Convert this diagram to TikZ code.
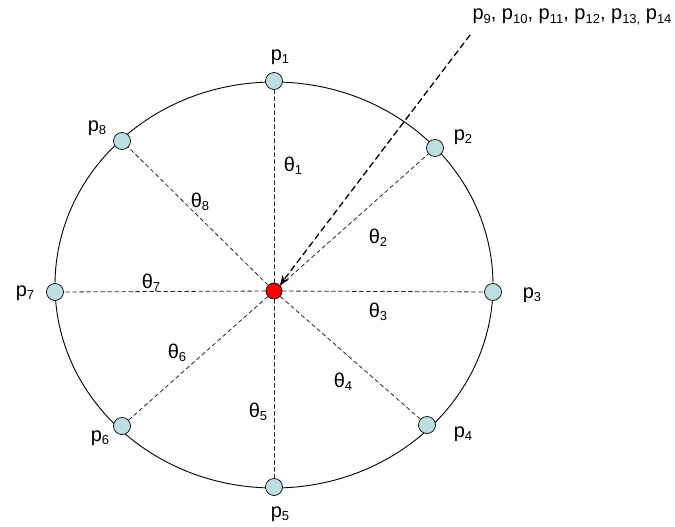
\documentclass[tikz,border=0pt]{standalone}
\usepackage{fontspec}
\setmainfont{Liberation Sans}
\usetikzlibrary{arrows.meta}
\newcommand{\lo}[1]{\raisebox{-0.3ex}{\fontsize{13}{14}\selectfont #1}}
\definecolor{ptblue}{HTML}{BCE0E2}
\begin{document}
\begin{tikzpicture}[
	x=1pt, y=-1pt,
	line cap=round, line join=round,
	pt/.style={circle, draw=black, fill=ptblue, line width=0.7pt, inner sep=0pt, minimum size=17pt},
	ctr/.style={circle, draw=black, fill=red, line width=0.7pt, inner sep=0pt, minimum size=16pt},
	spoke/.style={draw=black!85, dash pattern=on 4pt off 3pt, line width=0.8pt},
	lbl/.style={font=\fontsize{20}{22}\selectfont, inner sep=0pt}
	]
	\useasboundingbox (0,0) rectangle (675,527);
	
	\draw[line width=0.9pt] (274,285) ellipse [x radius=219, y radius=203];
	
	\node[ctr] (c) at (274,291) {};
	
	\node[pt] (p1) at (274,81) {};
	\node[pt] (p2) at (435,148) {};
	\node[pt] (p3) at (493,292) {};
	\node[pt] (p4) at (427,425) {};
	\node[pt] (p5) at (274,487) {};
	\node[pt] (p6) at (122,426) {};
	\node[pt] (p7) at (55,292) {};
	\node[pt] (p8) at (122,141) {};
	
	\foreach \i in {1,...,8}
		\draw[spoke] (c)--(p\i);
	
	\node[lbl] at (280,57) {p\lo{1}};
	\node[lbl] at (463,137) {p\lo{2}};
	\node[lbl] at (532,295) {p\lo{3}};
	\node[lbl] at (463,434) {p\lo{4}};
	\node[lbl] at (280,514) {p\lo{5}};
	\node[lbl] at (100,438) {p\lo{6}};
	\node[lbl] at (25,293) {p\lo{7}};
	\node[lbl] at (97,128) {p\lo{8}};
	
	\node[lbl] at (293,166) {θ\lo{1}};
	\node[lbl] at (378,238) {θ\lo{2}};
	\node[lbl] at (378,312) {θ\lo{3}};
	\node[lbl] at (343,382) {θ\lo{4}};
	\node[lbl] at (258,412) {θ\lo{5}};
	\node[lbl] at (177,353) {θ\lo{6}};
	\node[lbl] at (151,283) {θ\lo{7}};
	\node[lbl] at (200,202) {θ\lo{8}};
	
	\node[lbl] (rest) at (572,17) {p\lo{9}, p\lo{10}, p\lo{11}, p\lo{12}, p\lo{13,} p\lo{14}};
	\coordinate (from) at (470,35);
	\draw[black, dash pattern=on 6pt off 4pt, line width=1.3pt, -{Stealth[length=10pt, width=8pt]}] (from)--(c.north east);
\end{tikzpicture}
\end{document}
